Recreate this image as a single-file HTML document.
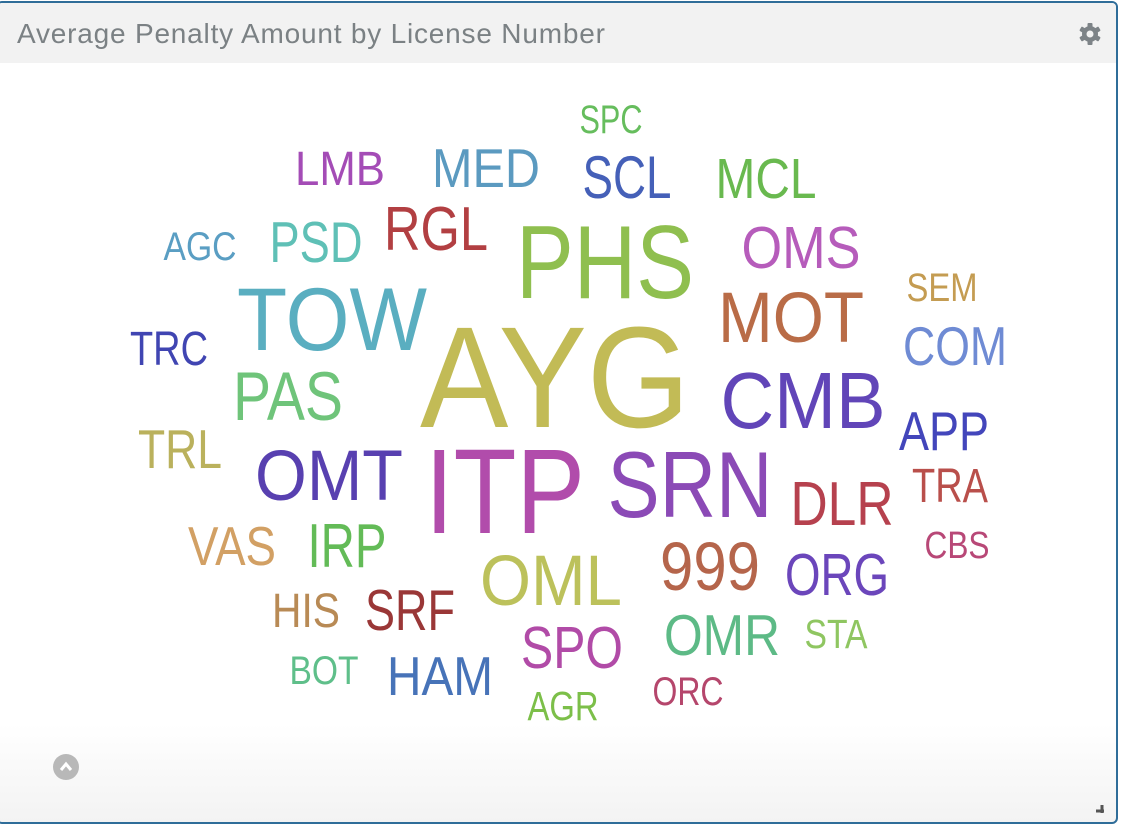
<!DOCTYPE html>
<html><head><meta charset="utf-8">
<style>
html,body{margin:0;padding:0;width:1128px;height:828px;overflow:hidden;background:#fff;font-family:"Liberation Sans",sans-serif;}
#panel{position:absolute;left:-4px;top:1px;width:1122px;height:823px;border:2px solid #2f6d99;border-radius:6px;box-sizing:border-box;background:linear-gradient(#fff 0,#fff 88%,#f3f3f3 100%);overflow:hidden;}
#header{position:absolute;left:0;top:0;right:0;height:60px;background:#f2f2f2;}
#title{position:absolute;left:19px;top:15px;font-size:28px;color:#7b8184;letter-spacing:0.8px;}
#gear{position:absolute;left:1079px;top:18px;width:26px;height:26px;}
#scroll{position:absolute;left:55px;top:751px;width:26px;height:26px;border-radius:50%;background:#b8b8b8;}
#resize{position:absolute;left:1098px;top:802px;width:8px;height:8px;}
svg#cloud{position:absolute;left:0;top:0;}
</style></head><body>
<div id="panel">
  <div id="header">
    <div id="title">Average Penalty Amount by License Number</div>
    <svg id="gear" viewBox="0 0 26 26">
      <g fill="#7d8387"><circle cx="13" cy="13" r="8"/>
      <rect x="10.5" y="2" width="5" height="22" rx="1"/>
      <rect x="10.5" y="2" width="5" height="22" rx="1" transform="rotate(60 13 13)"/>
      <rect x="10.5" y="2" width="5" height="22" rx="1" transform="rotate(120 13 13)"/></g>
      <circle cx="13" cy="13" r="3.5" fill="#f2f2f2"/>
    </svg>
  </div>
  <svg id="scroll" viewBox="0 0 26 26"><path d="M8 16 L13 10 L18 16" stroke="#fff" stroke-width="3" fill="none"/></svg>
  <svg id="resize" viewBox="0 0 8 8"><path d="M6 0 V8 M0 6 H8" stroke="#555" stroke-width="3"/></svg>
</div>
<svg id="cloud" width="1128" height="828"></svg>
<script>
const words=["AYG","ITP","PHS","TOW","SRN","CMB","OMT","MOT","OML","PAS","999","DLR","RGL","IRP","SPO","SRF","OMR","ORG","SCL","MED","MCL","OMS","PSD","TRC","TRL","VAS","APP","COM","HAM","LMB","TRA","HIS","AGC","SPC","SEM","CBS","STA","BOT","AGR","ORC"];
const values=[1050,880,760,650,680,580,520,520,520,500,500,450,450,450,430,420,420,430,440,400,410,430,420,350,400,400,400,400,400,350,350,350,290,290,290,280,300,290,300,290];
const colors=["#c2bb56","#b14cab","#8fbf4f","#5aaec0","#8b4ab6","#6145b8","#5840b0","#b96c47","#bcc15b","#6fc47a","#b5654b","#b6414e","#b23f42","#63bb57","#b14ba7","#9a3737","#5dba86","#6b46bb","#4560b8","#5b9ac0","#69b94f","#b65cbb","#5fc0b6","#4045b2","#bab15c","#d2a064","#4346bb","#6f8bd4","#4773b8","#a44cb6","#b94f4b","#b88a55","#5a9ec3","#66bd5d","#c49c52","#b84877","#8fc661","#5fbf8a","#7cbf49","#b5466c"];
// layout (word-cloud placement): center x, baseline y, rendered width
const layoutX=[555,505,605,332,690,803,329,791,551,288,710,842,436,347,572,410,722,837,627,486,766,801,316,169,180,232,944,955,440,340,950,306,200,611,942,957,836,324,563,688];
const layoutY=[427,533,298,350,517,428,500,342,605,420,590,525,250,567,668,630,655,595,198,187,198,268,262,365,468,565,450,365,695,185,502,627,260,133,301,558,648,684,720,705];
const layoutW=[270,160,178,190,165,165,148,146,142,110,100,103,104,79,102,90,116,104,89,108,101,119,93,78,84,88,90,104,106,90,76,68,73,63,71,65,63,69,71,71];
const svg=document.getElementById('cloud');
const NS='http://www.w3.org/2000/svg';
function sizeScale(v){return v/10/0.729;}
words.forEach((w,i)=>{
  const t=document.createElementNS(NS,'text');
  t.setAttribute('x',layoutX[i]);
  t.setAttribute('y',layoutY[i]);
  t.setAttribute('text-anchor','middle');
  t.setAttribute('font-size',sizeScale(values[i]).toFixed(1));
  t.setAttribute('font-family','"Liberation Sans", sans-serif');
  t.setAttribute('fill',colors[i]);
  t.setAttribute('textLength',layoutW[i]);
  t.setAttribute('lengthAdjust','spacingAndGlyphs');
  t.textContent=w;
  
  
  svg.appendChild(t);
});
</script>
</body></html>
